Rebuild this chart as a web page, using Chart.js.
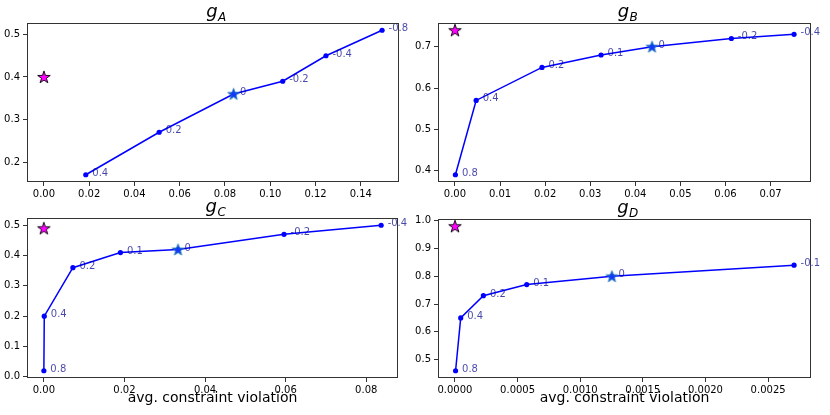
<!DOCTYPE html>
<html>
<head>
<meta charset="utf-8">
<script src="https://cdn.jsdelivr.net/npm/chart.js@4.4.1/dist/chart.umd.min.js"></script>
<style>
  html, body { margin: 0; padding: 0; background: #fff; }
  #wrap { position: relative; width: 830px; height: 415px; }
  canvas { position: absolute; left: 0; top: 0; }
</style>
</head>
<body>
<div id="wrap">
  <canvas id="chartA" width="830" height="415"></canvas>
  <canvas id="chartB" width="830" height="415"></canvas>
  <canvas id="chartC" width="830" height="415"></canvas>
  <canvas id="chartD" width="830" height="415"></canvas>
</div>
<script>
// g_A
const xA = [0.0185, 0.0509, 0.0838, 0.1055, 0.1246, 0.1494];
const yA = [0.17, 0.27, 0.36, 0.39, 0.45, 0.51];
const labelsA = ['0.4', '0.2', '0', '-0.2', '-0.4', '-0.8'];
const refA = [0, 0.40];
const xTicksA = [0, 0.02, 0.04, 0.06, 0.08, 0.10, 0.12, 0.14];
const yTicksA = [0.2, 0.3, 0.4, 0.5];

// g_B
const xB = [0.0001, 0.0047, 0.0193, 0.0324, 0.0437, 0.0613, 0.0752];
const yB = [0.39, 0.57, 0.65, 0.68, 0.70, 0.72, 0.73];
const labelsB = ['0.8', '0.4', '0.2', '0.1', '0', '-0.2', '-0.4'];
const refB = [0, 0.74];
const xTicksB = [0, 0.01, 0.02, 0.03, 0.04, 0.05, 0.06, 0.07];
const yTicksB = [0.4, 0.5, 0.6, 0.7];

// g_C
const xC = [0.0, 0.0001, 0.0072, 0.0190, 0.0333, 0.0596, 0.0837];
const yC = [0.02, 0.20, 0.36, 0.41, 0.42, 0.47, 0.50];
const labelsC = ['0.8', '0.4', '0.2', '0.1', '0', '-0.2', '-0.4'];
const refC = [0, 0.49];
const xTicksC = [0, 0.02, 0.04, 0.06, 0.08];
const yTicksC = [0.0, 0.1, 0.2, 0.3, 0.4, 0.5];

// g_D
const xD = [0.000005, 0.000046, 0.000227, 0.000573, 0.001253, 0.002707];
const yD = [0.46, 0.65, 0.73, 0.77, 0.80, 0.84];
const labelsD = ['0.8', '0.4', '0.2', '0.1', '0', '-0.1'];
const refD = [0, 0.98];
const xTicksD = [0, 0.0005, 0.0010, 0.0015, 0.0020, 0.0025];
const yTicksD = [0.5, 0.6, 0.7, 0.8, 0.9, 1.0];

const XLABEL = 'avg. constraint violation';
const FONT = '"DejaVu Sans", sans-serif';

function makeStar(radius, fill, edge) {
    const size = Math.ceil(radius * 2 + 4);
    const c = document.createElement('canvas');
    c.width = size;
    c.height = size;
    const g = c.getContext('2d');
    const cx = size / 2, cy = size / 2 + 0.5;
    g.beginPath();
    for (let k = 0; k < 10; k++) {
        const r = k % 2 === 0 ? radius : radius * 0.39;
        const a = -Math.PI / 2 + k * Math.PI / 5;
        g.lineTo(cx + r * Math.cos(a), cy + r * Math.sin(a));
    }
    g.closePath();
    g.fillStyle = fill;
    g.fill();
    g.strokeStyle = edge;
    g.lineWidth = 0.9;
    g.stroke();
    return c;
}

const refStar = makeStar(6.6, '#ff00ff', '#000000');
const zeroStar = makeStar(6.2, '#1238ff', '#1f77b4');

function padRange(values) {
    const lo = Math.min(...values), hi = Math.max(...values);
    const m = (hi - lo) * 0.05;
    return [lo - m, hi + m];
}

// frame, title, x label and point labels
const panelPlugin = {
    id: 'panel',
    afterDatasetsDraw(chart, args, opts) {
        const ctx = chart.ctx;
        const meta = chart.getDatasetMeta(2);
        ctx.save();
        ctx.font = '10px ' + FONT;
        ctx.fillStyle = 'rgba(0, 0, 139, 0.72)';
        ctx.textAlign = 'left';
        ctx.textBaseline = 'alphabetic';
        meta.data.forEach((pt, i) => {
            ctx.fillText(opts.labels[i], pt.x + 6.5, pt.y + 1);
        });
        ctx.restore();
    },
    afterDraw(chart, args, opts) {
        const ctx = chart.ctx;
        const area = chart.chartArea;
        ctx.save();
        ctx.strokeStyle = '#333';
        ctx.lineWidth = 1;
        ctx.strokeRect(area.left + 0.5, area.top + 0.5, area.right - area.left - 1, area.bottom - area.top - 1);

        // title g with subscript
        const cx = (area.left + area.right) / 2 + 3;
        ctx.fillStyle = '#000';
        ctx.textBaseline = 'alphabetic';
        ctx.textAlign = 'left';
        ctx.font = 'italic 18px ' + FONT;
        const gw = ctx.measureText('g').width;
        ctx.font = 'italic 12px ' + FONT;
        const sw = ctx.measureText(opts.sub).width;
        const x0 = cx - (gw + sw) / 2;
        ctx.font = 'italic 18px ' + FONT;
        ctx.fillText('g', x0, area.top - 6);
        ctx.font = 'italic 12px ' + FONT;
        ctx.fillText(opts.sub, x0 + gw + 0.5, area.top - 2);

        if (opts.xlabel) {
            ctx.font = '14px ' + FONT;
            ctx.textAlign = 'center';
            ctx.fillText(opts.xlabel, (area.left + area.right) / 2, 402);
        }
        ctx.restore();
    }
};

function makePanel(canvasId, box, xs, ys, labels, ref, xTicks, yTicks, xDigits, sub, xlabel) {
    const zeroIdx = labels.indexOf('0');
    const xr = padRange(xs.concat([ref[0]]));
    const yr = padRange(ys.concat([ref[1]]));
    const yAxisW = box.left > 100 ? 40 : box.left;
    const xAxisH = 30;

    const tickFont = { family: FONT, size: 10 };

    return new Chart(document.getElementById(canvasId), {
        type: 'scatter',
        data: {
            datasets: [
                {
                    data: [{ x: ref[0], y: ref[1] }],
                    pointStyle: refStar,
                    clip: false
                },
                {
                    data: [{ x: xs[zeroIdx], y: ys[zeroIdx] }],
                    pointStyle: zeroStar,
                    clip: false
                },
                {
                    data: xs.map((x, i) => ({ x: x, y: ys[i] })),
                    showLine: true,
                    borderColor: '#0000ff',
                    borderWidth: 1.5,
                    pointRadius: 2.6,
                    pointBorderWidth: 0,
                    pointBackgroundColor: '#0000ff',
                    clip: false
                }
            ]
        },
        options: {
            responsive: false,
            animation: false,
            events: [],
            layout: {
                padding: {
                    left: box.left - yAxisW,
                    top: box.top,
                    right: 830 - box.right,
                    bottom: 415 - box.bottom - xAxisH
                }
            },
            plugins: {
                legend: { display: false },
                tooltip: { enabled: false },
                panel: { labels: labels, sub: sub, xlabel: xlabel }
            },
            scales: {
                x: {
                    type: 'linear',
                    min: xr[0],
                    max: xr[1],
                    afterBuildTicks: s => { s.ticks = xTicks.map(v => ({ value: v })); },
                    afterFit: s => { s.height = xAxisH; },
                    ticks: {
                        callback: v => v.toFixed(xDigits),
                        font: tickFont,
                        color: '#000',
                        padding: 2,
                        maxRotation: 0,
                        autoSkip: false
                    },
                    grid: { drawOnChartArea: false, drawTicks: true, tickLength: 4, color: '#333' },
                    border: { display: false }
                },
                y: {
                    type: 'linear',
                    min: yr[0],
                    max: yr[1],
                    afterBuildTicks: s => { s.ticks = yTicks.map(v => ({ value: v })); },
                    afterFit: s => { s.width = yAxisW; },
                    ticks: {
                        callback: v => v.toFixed(1),
                        font: tickFont,
                        color: '#000',
                        padding: 3,
                        autoSkip: false
                    },
                    grid: { drawOnChartArea: false, drawTicks: true, tickLength: 4, color: '#333' },
                    border: { display: false }
                }
            }
        },
        plugins: [panelPlugin]
    });
}

makePanel('chartA', { left: 27, top: 23, right: 399, bottom: 182 }, xA, yA, labelsA, refA, xTicksA, yTicksA, 2, 'A', null);
makePanel('chartB', { left: 438, top: 23, right: 811, bottom: 182 }, xB, yB, labelsB, refB, xTicksB, yTicksB, 2, 'B', null);
makePanel('chartC', { left: 27, top: 218, right: 398, bottom: 378 }, xC, yC, labelsC, refC, xTicksC, yTicksC, 2, 'C', XLABEL);
makePanel('chartD', { left: 438, top: 219, right: 811, bottom: 378 }, xD, yD, labelsD, refD, xTicksD, yTicksD, 4, 'D', XLABEL);
</script>
</body>
</html>
